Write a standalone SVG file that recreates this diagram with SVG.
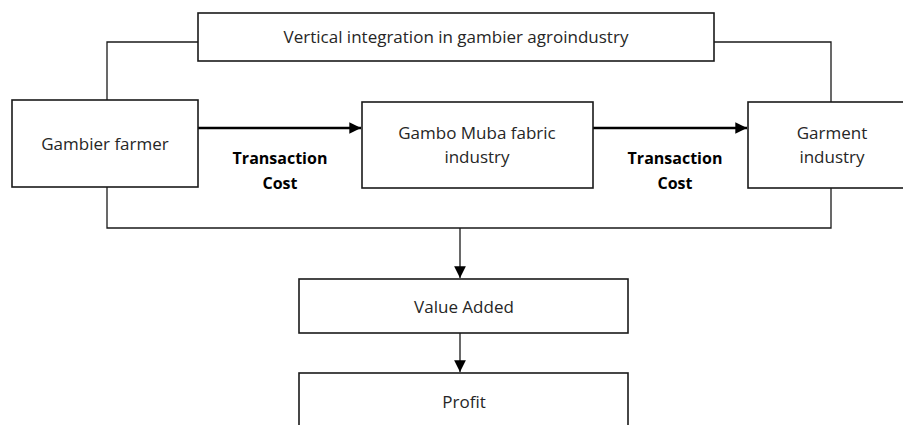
<svg xmlns="http://www.w3.org/2000/svg" width="903" height="425" viewBox="0 0 903 425">
  <style>
    .box { fill: #ffffff; stroke: #1a1a1a; stroke-width: 1.6; }
    .wire { fill: none; stroke: #1a1a1a; stroke-width: 1.3; }
    .flow { fill: none; stroke: #000000; stroke-width: 2.6; }
    .lbl { font-family: "Open Sans", "Liberation Sans", sans-serif; font-size: 17px; fill: #262626; text-anchor: middle; }
    .cost { font-family: "Open Sans", "Liberation Sans", sans-serif; font-size: 16px; font-weight: bold; fill: #000000; text-anchor: middle; }
  </style>
  <defs>
    <marker id="headThick" viewBox="0 0 10 10" refX="10" refY="5" markerWidth="4.5" markerHeight="4.5" orient="auto" markerUnits="strokeWidth">
      <path d="M0,0 L10,5 L0,10 Z" fill="#000"/>
    </marker>
    <marker id="headThin" viewBox="0 0 10 10" refX="10" refY="5" markerWidth="9" markerHeight="9" orient="auto" markerUnits="strokeWidth">
      <path d="M0,0 L10,5 L0,10 Z" fill="#000"/>
    </marker>
  </defs>

  <g id="connectors">
    <!-- bracket from the integration box to the two end nodes -->
    <polyline class="wire" points="198,42 107,42 107,100"/>
    <polyline class="wire" points="714,42 831,42 831,102"/>
    <!-- collector line under the chain -->
    <polyline class="wire" points="107,187 107,228 831,228 831,188"/>
    <line class="wire" x1="460" y1="228" x2="460" y2="278" marker-end="url(#headThin)"/>
    <line class="wire" x1="460" y1="333" x2="460" y2="372" marker-end="url(#headThin)"/>
    <!-- transaction flows -->
    <line class="flow" x1="198" y1="128" x2="361" y2="128" marker-end="url(#headThick)"/>
    <line class="flow" x1="593" y1="128" x2="747" y2="128" marker-end="url(#headThick)"/>
    <text class="cost" x="280" y="164">Transaction</text>
    <text class="cost" x="280" y="189">Cost</text>
    <text class="cost" x="675" y="164">Transaction</text>
    <text class="cost" x="675" y="189">Cost</text>
  </g>

  <g id="integration">
    <rect class="box" x="198" y="13" width="516" height="48"/>
    <text class="lbl" x="456" y="43">Vertical integration in gambier agroindustry</text>
  </g>

  <g id="farmer">
    <rect class="box" x="12" y="100" width="186" height="87"/>
    <text class="lbl" x="105" y="150">Gambier farmer</text>
  </g>

  <g id="fabric">
    <rect class="box" x="362" y="102" width="231" height="86"/>
    <text class="lbl" x="477" y="139">Gambo Muba fabric</text>
    <text class="lbl" x="477" y="163">industry</text>
  </g>

  <g id="garment">
    <rect class="box" x="748" y="102" width="170" height="86"/>
    <text class="lbl" x="832" y="139">Garment</text>
    <text class="lbl" x="832" y="163">industry</text>
  </g>

  <g id="value-added">
    <rect class="box" x="299" y="279" width="329" height="54"/>
    <text class="lbl" x="464" y="313">Value Added</text>
  </g>

  <g id="profit">
    <rect class="box" x="299" y="373" width="329" height="70"/>
    <text class="lbl" x="464" y="408">Profit</text>
  </g>
</svg>
